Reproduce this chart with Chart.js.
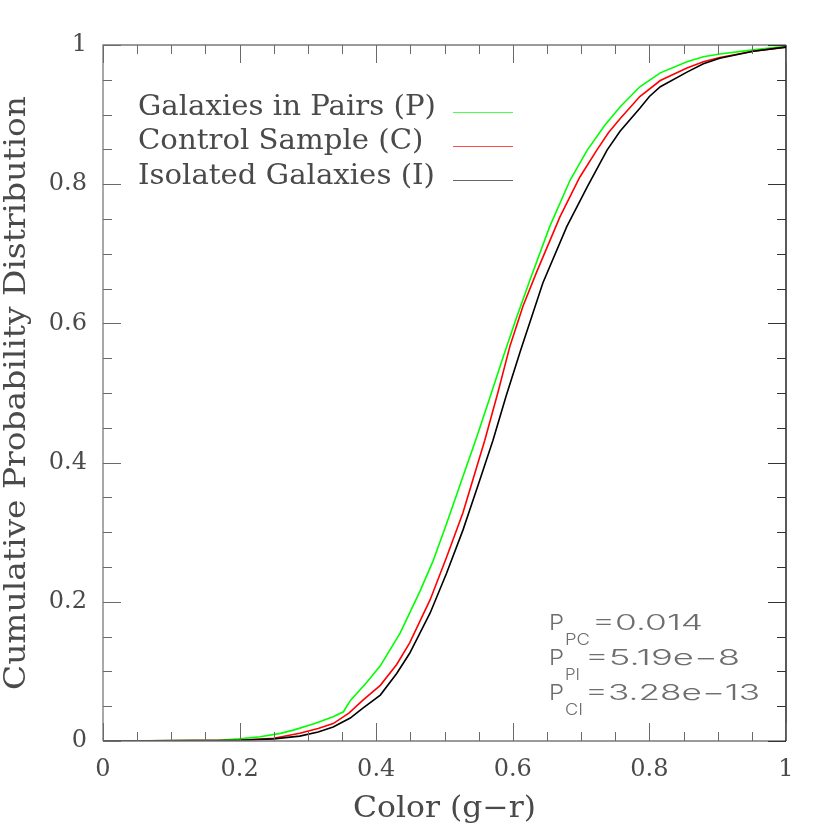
<!DOCTYPE html>
<html>
<head>
<meta charset="utf-8">
<script src="https://cdn.jsdelivr.net/npm/chart.js@4"></script>
<style>
html,body{margin:0;padding:0;background:#fff;}
canvas{display:block;}
</style>
</head>
<body>
<canvas id="c" width="830" height="830"></canvas>
<script>
// ---- data ----
const seriesLabels = ['Galaxies in Pairs (P)', 'Control Sample (C)', 'Isolated Galaxies (I)'];
const seriesColors = ['#00ff00', '#ff0000', '#000000'];

const pX = [0, 0.17, 0.2, 0.23, 0.26, 0.28, 0.31, 0.337, 0.352, 0.362, 0.385, 0.406, 0.435, 0.464, 0.483, 0.503, 0.527, 0.547, 0.566, 0.586, 0.605, 0.625, 0.654, 0.684, 0.709, 0.735, 0.757, 0.786, 0.816, 0.855, 0.879, 0.903, 0.952, 1.0];
const pY = [0, 0.001, 0.003, 0.006, 0.011, 0.016, 0.025, 0.035, 0.042, 0.058, 0.083, 0.108, 0.155, 0.215, 0.258, 0.312, 0.38, 0.436, 0.492, 0.552, 0.607, 0.662, 0.739, 0.806, 0.849, 0.885, 0.911, 0.94, 0.96, 0.976, 0.983, 0.987, 0.993, 0.998];

const cX = [0, 0.2, 0.25, 0.288, 0.315, 0.337, 0.36, 0.381, 0.406, 0.43, 0.449, 0.479, 0.503, 0.527, 0.559, 0.578, 0.596, 0.615, 0.635, 0.669, 0.698, 0.723, 0.74, 0.757, 0.786, 0.816, 0.855, 0.879, 0.903, 0.952, 1.0];
const cY = [0, 0.001, 0.004, 0.011, 0.018, 0.025, 0.04, 0.059, 0.08, 0.11, 0.141, 0.203, 0.264, 0.328, 0.432, 0.5, 0.568, 0.625, 0.674, 0.753, 0.81, 0.849, 0.874, 0.894, 0.926, 0.949, 0.967, 0.976, 0.982, 0.991, 0.997];

const iX = [0, 0.2, 0.25, 0.288, 0.315, 0.337, 0.362, 0.38, 0.406, 0.43, 0.449, 0.479, 0.503, 0.527, 0.55, 0.571, 0.59, 0.611, 0.644, 0.679, 0.709, 0.738, 0.757, 0.786, 0.8, 0.816, 0.855, 0.879, 0.903, 0.952, 1.0];
const iY = [0, 0.001, 0.003, 0.007, 0.013, 0.02, 0.033, 0.047, 0.066, 0.097, 0.126, 0.184, 0.241, 0.303, 0.37, 0.432, 0.495, 0.56, 0.658, 0.739, 0.796, 0.849, 0.876, 0.909, 0.926, 0.94, 0.961, 0.973, 0.981, 0.991, 0.997];

const xTickLabels = ['0', '0.2', '0.4', '0.6', '0.8', '1'];
const yTickLabels = ['0', '0.2', '0.4', '0.6', '0.8', '1'];
const xTitle = 'Color (g\u2212r)';
const yTitle = 'Cumulative Probability Distribution';
const annSubs = ['PC', 'PI', 'CI'];
const annValues = ['=0.014', '=5.19e\u22128', '=3.28e\u221213'];

function pts(xs, ys){ return xs.map((x,i)=>({x:x, y:ys[i]})); }

const SERIF = '"DejaVu Serif", serif';
const SANS = 'Inter, "DejaVu Sans", sans-serif';
const TXT = '#4a4a4a';

function fitText(ctx, text, x, y, w, align){
  const m = ctx.measureText(text).width;
  const s = w / m;
  ctx.save();
  ctx.translate(x, y);
  ctx.scale(s, 1);
  ctx.textAlign = 'left';
  ctx.fillText(text, align === 'center' ? -m/2 : 0, 0);
  ctx.restore();
}

const decor = {
  id: 'decor',
  afterDatasetsDraw(chart){
    const ctx = chart.ctx;
    const a = chart.chartArea;
    const xs = chart.scales.x, ys = chart.scales.y;
    ctx.save();
    // frame
    ctx.lineWidth = 1.3;
    ctx.strokeStyle = '#7a7a7a';
    ctx.beginPath();
    ctx.moveTo(a.left, a.bottom); ctx.lineTo(a.left, a.top); ctx.lineTo(a.right, a.top);
    ctx.moveTo(a.left, a.bottom); ctx.lineTo(a.right, a.bottom);
    ctx.stroke();
    ctx.strokeStyle = '#000';
    ctx.beginPath();
    ctx.moveTo(a.right, a.top); ctx.lineTo(a.right, a.bottom);
    ctx.stroke();
    // ticks
    ctx.lineWidth = 1;
    for (let k = 0; k <= 20; k++) {
      const v = k * 0.05;
      const major = (k % 4 === 0);
      const L = major ? 18 : 9;
      const px = Math.round(xs.getPixelForValue(v)) + 0.5;
      const py = Math.round(ys.getPixelForValue(v)) + 0.5;
      ctx.strokeStyle = '#6a6a6a';
      ctx.beginPath();
      ctx.moveTo(px, a.bottom); ctx.lineTo(px, a.bottom - L);
      ctx.moveTo(px, a.top); ctx.lineTo(px, a.top + L);
      ctx.moveTo(a.left, py); ctx.lineTo(a.left + L, py);
      ctx.stroke();
      ctx.strokeStyle = '#333';
      ctx.beginPath();
      ctx.moveTo(a.right, py); ctx.lineTo(a.right - L, py);
      ctx.stroke();
    }
    // axis titles
    ctx.fillStyle = TXT;
    ctx.textBaseline = 'alphabetic';
    ctx.font = '29px ' + SERIF;
    fitText(ctx, xTitle, (a.left + a.right)/2, 817, 183, 'center');
    ctx.save();
    ctx.translate(25, (a.top + a.bottom)/2);
    ctx.rotate(-Math.PI/2);
    fitText(ctx, yTitle, 0, 0, 594, 'center');
    ctx.restore();
    // legend
    ctx.font = '27px ' + SERIF;
    const baseW = ctx.measureText(seriesLabels[0]).width;
    const sc = 298 / baseW;
    const rowsY = [115, 149, 184];
    const lineY = [112, 146, 180];
    chart.data.datasets.forEach((ds, i) => {
      ctx.fillStyle = TXT;
      ctx.save();
      ctx.translate(138, rowsY[i]);
      ctx.scale(sc, 1);
      ctx.textAlign = 'left';
      ctx.fillText(ds.label, 0, 0);
      ctx.restore();
      ctx.strokeStyle = ds.borderColor;
      ctx.lineWidth = 1;
      ctx.globalAlpha = i === 2 ? 0.6 : 0.7;
      ctx.beginPath();
      ctx.moveTo(453, lineY[i] + 0.5); ctx.lineTo(513, lineY[i] + 0.5);
      ctx.stroke();
      ctx.globalAlpha = 1;
    });
    // annotation
    ctx.fillStyle = '#6e6e6e';
    const bl = [630, 665, 700];
    const subW = [25, 15, 18];
    const valX = [592, 585, 585];
    const valW = [111, 155, 175];
    for (let i = 0; i < 3; i++) {
      ctx.font = '300 22px ' + SANS;
      fitText(ctx, 'P', 549, bl[i], 15, 'left');
      ctx.font = '300 16px ' + SANS;
      fitText(ctx, annSubs[i], 565, bl[i] + 15, subW[i], 'left');
      ctx.font = '300 22px ' + SANS;
      fitText(ctx, annValues[i], valX[i], bl[i], valW[i], 'left');
    }
    ctx.restore();
  }
};

new Chart(document.getElementById('c'), {
  type: 'scatter',
  data: {
    datasets: [
      {label: seriesLabels[0], data: pts(pX, pY), borderColor: seriesColors[0], order: 2},
      {label: seriesLabels[1], data: pts(cX, cY), borderColor: seriesColors[1], order: 1},
      {label: seriesLabels[2], data: pts(iX, iY), borderColor: seriesColors[2], order: 0}
    ].map(d => Object.assign(d, {showLine: true, pointRadius: 0, borderWidth: 1.6, tension: 0, backgroundColor: d.borderColor}))
  },
  options: {
    responsive: false,
    animation: false,
    layout: {padding: {left: 0, top: 45, right: 44, bottom: 0}},
    plugins: {legend: {display: false}, tooltip: {enabled: false}},
    scales: {
      x: {
        type: 'linear', min: 0, max: 1,
        border: {display: false},
        grid: {display: false, drawTicks: false},
        ticks: {stepSize: 0.2, padding: 14, color: TXT, font: {family: SERIF, size: 24},
                maxRotation: 0, callback: (v, i) => xTickLabels[i]},
        afterFit: s => { s.height = 89; }
      },
      y: {
        type: 'linear', min: 0, max: 1,
        border: {display: false},
        grid: {display: false, drawTicks: false},
        ticks: {stepSize: 0.2, padding: 16, color: TXT, font: {family: SERIF, size: 24},
                callback: (v, i) => yTickLabels[i]},
        afterFit: s => { s.width = 103; }
      }
    }
  },
  plugins: [decor]
});
</script>
</body>
</html>
